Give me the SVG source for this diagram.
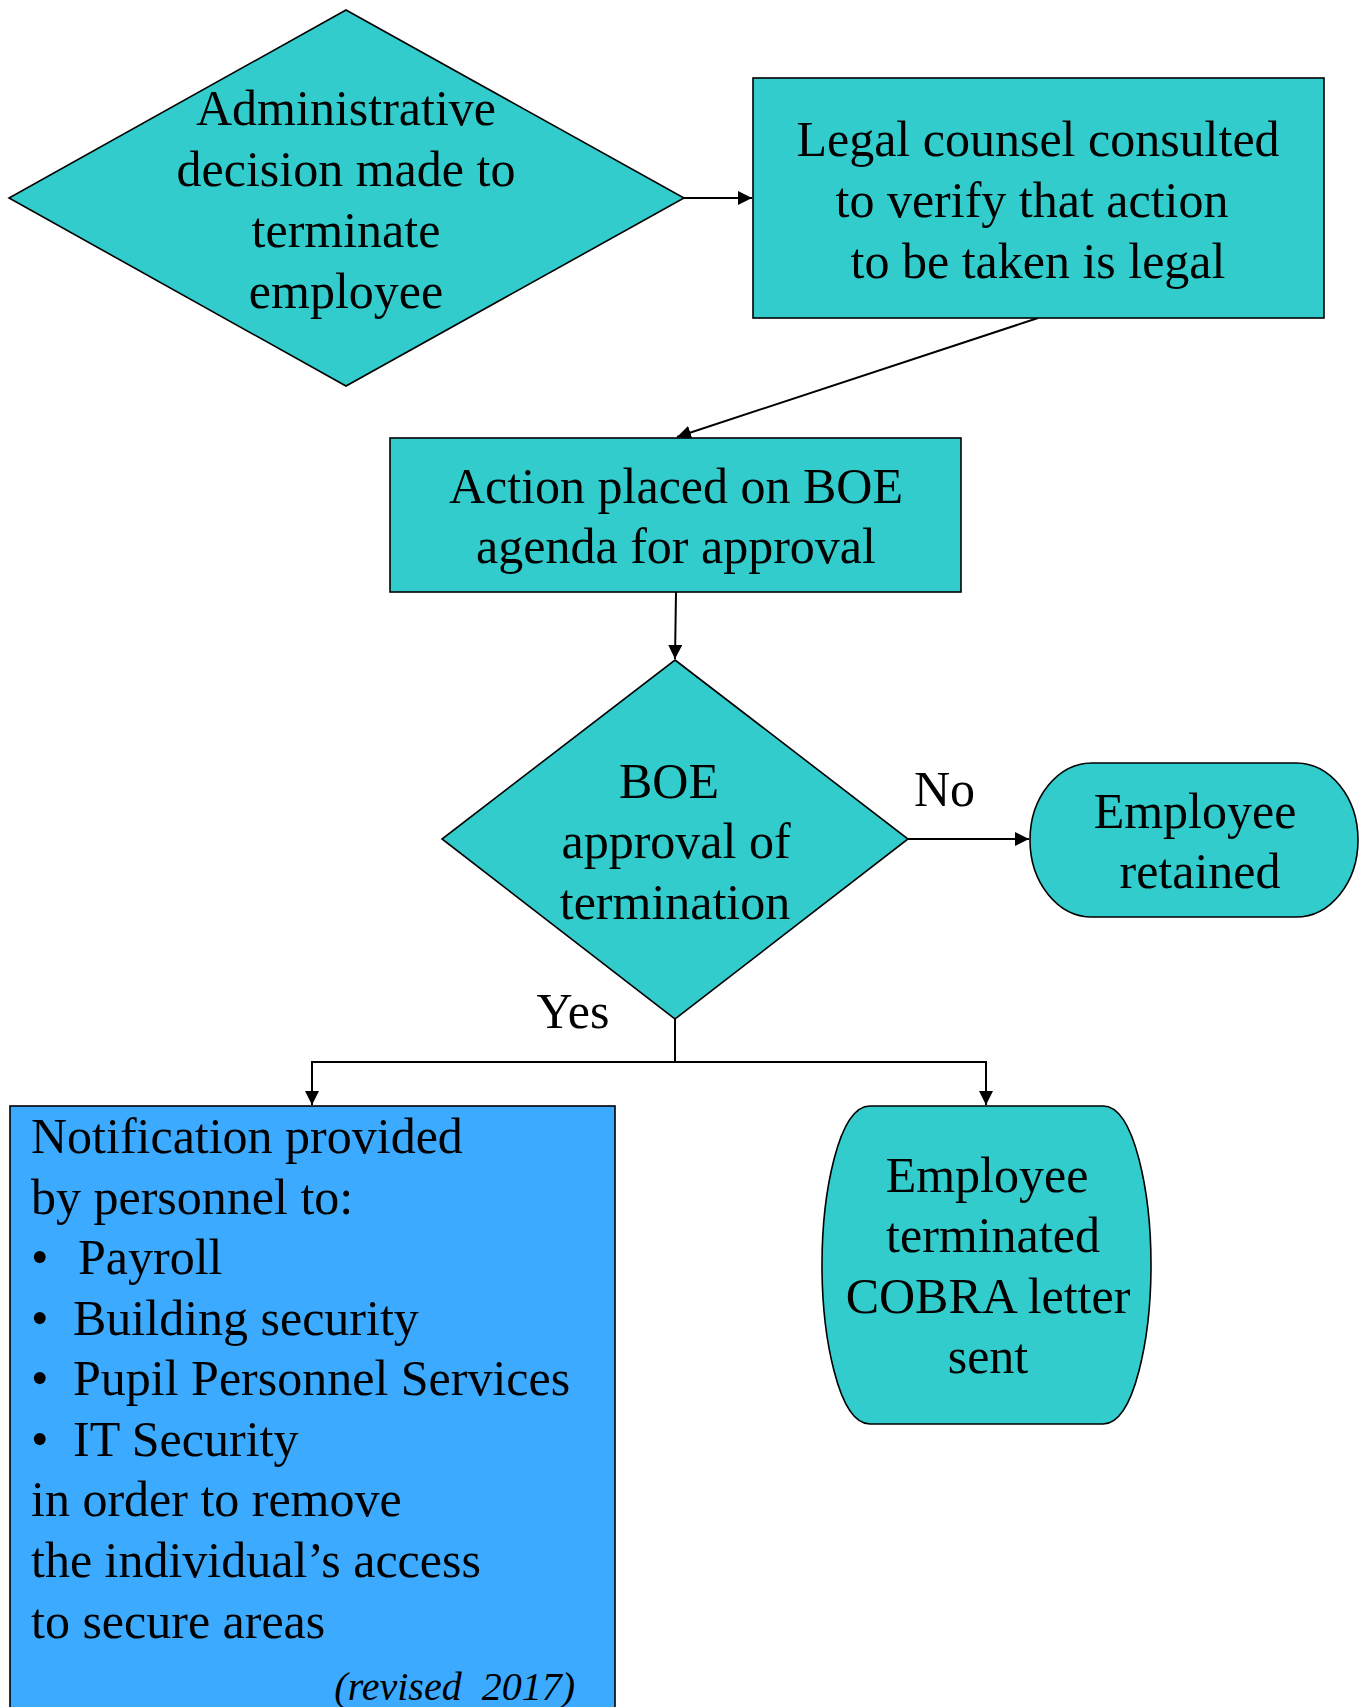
<svg xmlns="http://www.w3.org/2000/svg" width="1364" height="1707" viewBox="0 0 1364 1707">
<defs>
<style>
.t{font-family:"Liberation Serif","Times New Roman",serif;font-size:50px;fill:#000}
.c{text-anchor:middle}
.n{fill:#33CCCC;stroke:#000;stroke-width:1.6}
.b{fill:#3CAAFF;stroke:#000;stroke-width:1.6}
.e{fill:none;stroke:#000;stroke-width:2}
</style>
<marker id="ah" viewBox="0 0 10 10" refX="10" refY="5" markerWidth="14" markerHeight="14" markerUnits="userSpaceOnUse" orient="auto">
<path d="M0,0 L10,5 L0,10 Z" fill="#000"/>
</marker>
</defs>
<rect width="1364" height="1707" fill="#fff"/>
<g id="connectors">
<line class="e" x1="684" y1="198" x2="752" y2="198" marker-end="url(#ah)"/>
<line class="e" x1="1038" y1="318" x2="677" y2="437" marker-end="url(#ah)"/>
<line class="e" x1="676" y1="592" x2="675" y2="659" marker-end="url(#ah)"/>
<line class="e" x1="908" y1="839" x2="1029" y2="839" marker-end="url(#ah)"/>
<polyline class="e" points="675,1019 675,1062 312,1062 312,1105" marker-end="url(#ah)"/>
<polyline class="e" points="675,1062 986,1062 986,1105" marker-end="url(#ah)"/>
<text class="t" x="914" y="806">No</text>
<text class="t c" x="573" y="1028">Yes</text>
</g>
<g id="n1">
<polygon class="n" points="346,10 684,198 346,386 9,198"/>
<text class="t c" x="346" y="125">Administrative</text>
<text class="t c" x="346" y="186">decision made to</text>
<text class="t c" x="346" y="247">terminate</text>
<text class="t c" x="346" y="308">employee</text>
</g>
<g id="n2">
<rect class="n" x="753" y="78" width="571" height="240"/>
<text class="t c" x="1038" y="156">Legal counsel consulted</text>
<text class="t c" x="1032" y="217">to verify that action</text>
<text class="t c" x="1038" y="278">to be taken is legal</text>
</g>
<g id="n3">
<rect class="n" x="390" y="438" width="571" height="154"/>
<text class="t c" x="676" y="503">Action placed on BOE</text>
<text class="t c" x="676" y="563">agenda for approval</text>
</g>
<g id="n4">
<polygon class="n" points="675,660 908,839 675,1019 442,839"/>
<text class="t c" x="669" y="798">BOE</text>
<text class="t c" x="676" y="858">approval of</text>
<text class="t c" x="675" y="919">termination</text>
</g>
<g id="n5">
<rect class="n" x="1030" y="763" width="328" height="154" rx="62" ry="77"/>
<text class="t c" x="1195" y="828">Employee</text>
<text class="t c" x="1200" y="888">retained</text>
</g>
<g id="n6">
<rect class="b" x="10" y="1106" width="605" height="640"/>
<text class="t" x="31" y="1153">Notification provided</text>
<text class="t" x="31" y="1214">by personnel to:</text>
<text class="t" x="31" y="1274">•</text>
<text class="t" x="78" y="1274">Payroll</text>
<text class="t" x="31" y="1335">•</text>
<text class="t" x="73" y="1335">Building security</text>
<text class="t" x="31" y="1395">•</text>
<text class="t" x="73" y="1395">Pupil Personnel Services</text>
<text class="t" x="31" y="1456">•</text>
<text class="t" x="73" y="1456">IT Security</text>
<text class="t" x="31" y="1516">in order to remove</text>
<text class="t" x="31" y="1577">the individual’s access</text>
<text class="t" x="31" y="1638">to secure areas</text>
<text class="t" x="575" y="1700" style="font-size:40px;font-style:italic;text-anchor:end;white-space:pre">(revised  2017)</text>
</g>
<g id="n7">
<path class="n" d="M870,1106 L1103,1106 C1135,1106 1151,1195 1151,1265 C1151,1335 1135,1424 1103,1424 L870,1424 C838,1424 822,1335 822,1265 C822,1195 838,1106 870,1106 Z"/>
<text class="t c" x="987" y="1192">Employee</text>
<text class="t c" x="993" y="1252">terminated</text>
<text class="t c" x="988" y="1313">COBRA letter</text>
<text class="t c" x="988" y="1373">sent</text>
</g>
</svg>
